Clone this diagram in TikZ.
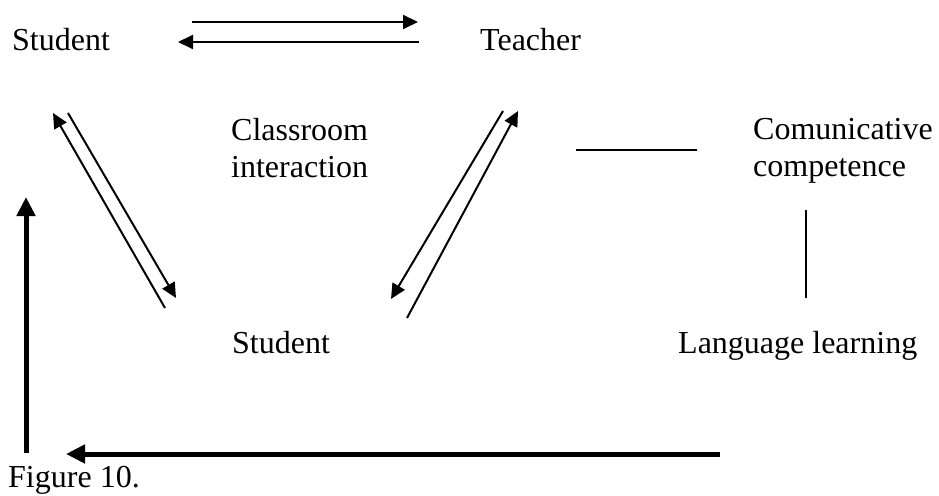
\documentclass[tikz,border=0pt]{standalone}
\usepackage{fontspec}
\setmainfont{Liberation Serif}
\usetikzlibrary{arrows.meta}
\begin{document}
\begin{tikzpicture}[x=1pt,y=-1pt,
  lbl/.style={anchor=base west,inner sep=0pt,font=\fontsize{32}{37}\selectfont,align=left},
  thin/.style={line width=2pt},
  thinarrow/.style={line width=2pt,-{Triangle[length=15pt,width=14pt]}},
  thickarrow/.style={line width=5pt,-{Triangle[length=19pt,width=18pt]}}]
\useasboundingbox (0,0) rectangle (939,495);
% texts (anchor at baseline of the last line)
\node[lbl] (s1) at (12,51) {Student};
\node[lbl] (t) at (480,51) {Teacher};
\node[lbl] (ci) at (231,177) {Classroom\\interaction};
\node[lbl] (cc) at (753,176) {Comunicative\\competence};
\node[lbl] (s2) at (232,353) {Student};
\node[lbl] (ll) at (678,353) {Language learning};
\node[lbl] (fig) at (8,487) {Figure 10.};
% endpoints
\coordinate (a1) at (192,22); \coordinate (a2) at (418,22);
\coordinate (b1) at (419,42); \coordinate (b2) at (178,42);
\coordinate (c1) at (165,308); \coordinate (c2) at (53,113);
\coordinate (d1) at (68,113); \coordinate (d2) at (176,298);
\coordinate (e1) at (503,111); \coordinate (e2) at (391,299);
\coordinate (f1) at (407,318); \coordinate (f2) at (518,111);
\coordinate (h1) at (576,150); \coordinate (h2) at (697,150);
\coordinate (v1) at (806,210); \coordinate (v2) at (806,298);
\coordinate (g1) at (26,453); \coordinate (g2) at (26,197);
\coordinate (k1) at (720,454); \coordinate (k2) at (66,454);
% connectors
\draw[thinarrow] (a1) -- (a2);
\draw[thinarrow] (b1) -- (b2);
\draw[thinarrow] (c1) -- (c2);
\draw[thinarrow] (d1) -- (d2);
\draw[thinarrow] (e1) -- (e2);
\draw[thinarrow] (f1) -- (f2);
\draw[thin] (h1) -- (h2);
\draw[thin] (v1) -- (v2);
\draw[thickarrow] (g1) -- (g2);
\draw[thickarrow] (k1) -- (k2);
\end{tikzpicture}
\end{document}
